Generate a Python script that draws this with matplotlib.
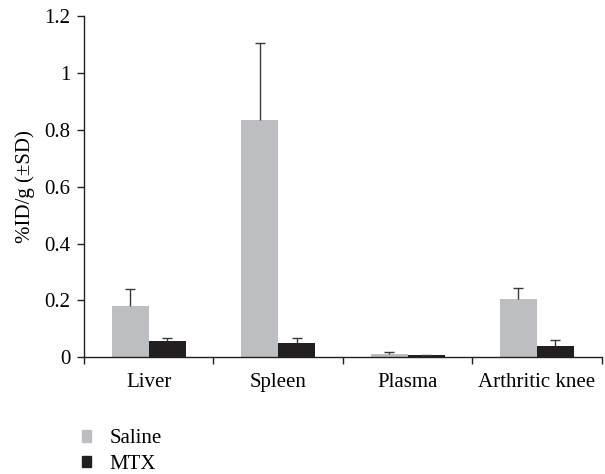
import matplotlib
matplotlib.use("Agg")
import matplotlib.pyplot as plt
import numpy as np
from matplotlib.patches import Patch

categories = ["Liver", "Spleen", "Plasma", "Arthritic knee"]
saline = [0.18, 0.835, 0.012, 0.204]
saline_sd = [0.061, 0.27, 0.006, 0.040]
mtx = [0.058, 0.049, 0.007, 0.040]
mtx_sd = [0.011, 0.018, 0.002, 0.020]
series_names = ["Saline", "MTX"]
yticks = [0, 0.2, 0.4, 0.6, 0.8, 1.0, 1.2]
ytick_labels = ["0", "0.2", "0.4", "0.6", "0.8", "1", "1.2"]

plt.rcParams['font.family'] = ['Liberation Serif', 'DejaVu Serif']
FS = 15
fig = plt.figure(figsize=(6.05, 4.74), dpi=100)
ax = fig.add_axes([84/605, 1-357.3/474, (601.7-84)/605, (357.3-16)/474])

c_sal = "#bdbec1"
c_mtx = "#231f20"
x = np.arange(len(categories))
w = 0.286
ek = dict(ecolor="#3a3a3a", elinewidth=1.0, capsize=3.8, capthick=1.0)
ax.bar(x - w/2, saline, w, color=c_sal, label=series_names[0])
eb1 = ax.errorbar(x - w/2, saline, yerr=[np.zeros(4), saline_sd], fmt="none", **ek)
ax.bar(x + w/2, mtx, w, color=c_mtx, label=series_names[1])
eb2 = ax.errorbar(x + w/2, mtx, yerr=[np.zeros(4), mtx_sd], fmt="none", **ek)
for eb in (eb1, eb2):
    eb[1][0].set_visible(False)

ax.set_xlim(-0.5, len(categories) - 0.5)
ax.set_ylim(0, 1.2)
ax.set_yticks(yticks)
ax.set_yticklabels(ytick_labels, fontsize=FS)
ax.set_xticks(np.arange(len(categories) + 1) - 0.5)
ax.set_xticklabels([])
ax.set_xticks(x, minor=True)
ax.set_xticklabels(categories, minor=True, fontsize=FS)
ax.tick_params(axis="x", which="minor", length=0, pad=11)
ax.tick_params(axis="x", which="major", length=5, width=1, color="#231f20")
ax.tick_params(axis="y", length=5, width=1, color="#231f20", pad=4.7)
for s in ["top", "right"]:
    ax.spines[s].set_visible(False)
for s in ["left", "bottom"]:
    ax.spines[s].set_color("#231f20")
    ax.spines[s].set_linewidth(1)
ax.set_ylabel("%ID/g (±SD)", fontsize=FS, labelpad=7)

handles = [Patch(color=c_sal), Patch(color=c_mtx)]
fig.legend(handles, series_names, loc="upper left", bbox_to_anchor=(0.135, 0.094),
           frameon=False, fontsize=FS, handlelength=0.45, handleheight=0.45,
           handletextpad=0.9, labelspacing=0.3, borderaxespad=0, borderpad=0)

fig.savefig("out.png", dpi=100)
